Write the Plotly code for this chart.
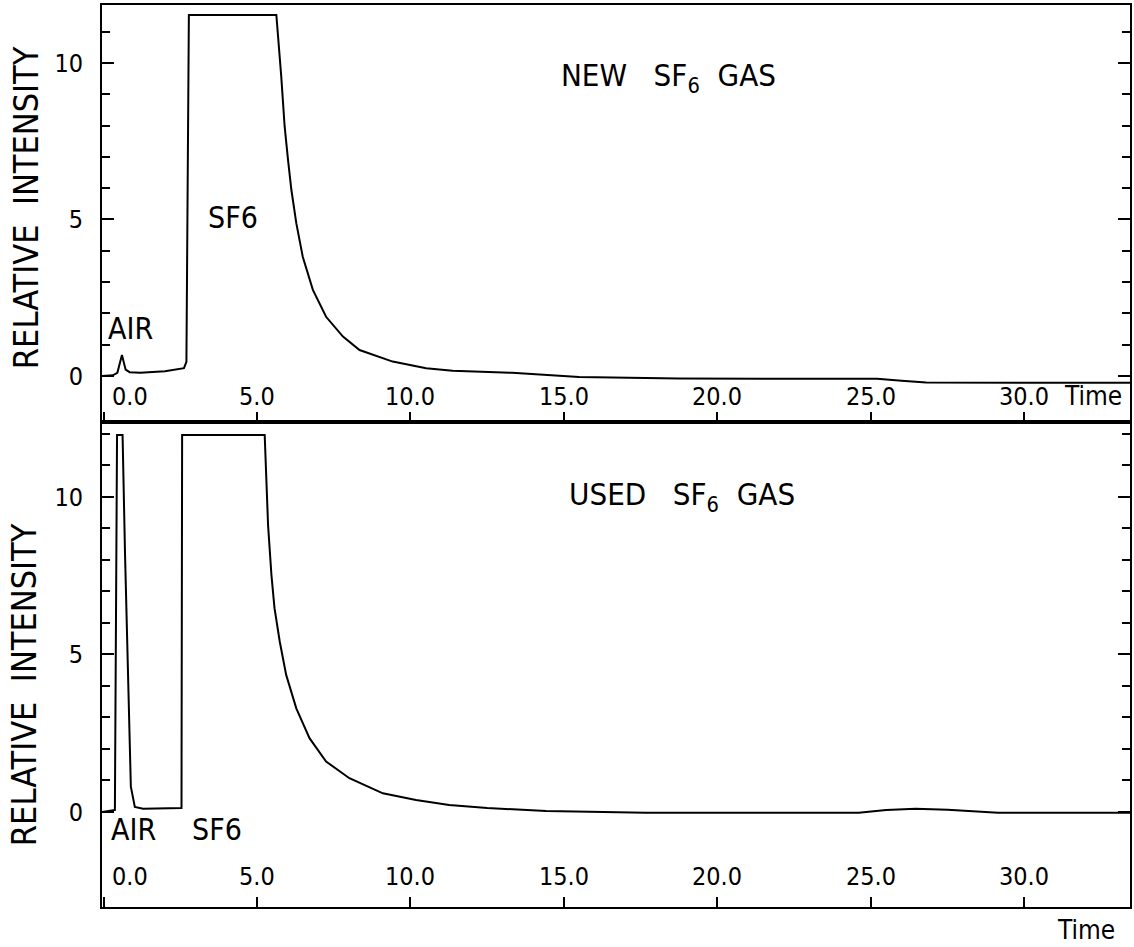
import plotly.graph_objects as go

# ---------------- data ----------------
# NEW SF6 gas chromatogram
new_t = [-0.05, 0.30, 0.45, 0.60, 0.72, 0.85, 1.20, 2.00, 2.62, 2.70, 2.78, 5.63,
         5.79, 5.90, 6.01, 6.12, 6.28, 6.49, 6.82, 7.25, 7.80, 8.34, 9.42, 10.51,
         11.37, 13.31, 15.49, 18.74, 22.0, 25.2, 26.0, 26.8, 30.0, 33.44]
new_v = [0.0, 0.02, 0.10, 0.67, 0.20, 0.12, 0.10, 0.15, 0.25, 0.45, 11.53, 11.53,
         9.56, 7.97, 6.90, 5.94, 4.88, 3.81, 2.75, 1.89, 1.26, 0.83, 0.46, 0.25,
         0.17, 0.10, -0.03, -0.08, -0.09, -0.09, -0.15, -0.21, -0.22, -0.22]

# USED SF6 gas chromatogram
used_t = [-0.05, 0.37, 0.44, 0.62, 0.70, 0.80, 0.89, 1.02, 1.29, 2.54, 2.56, 5.25,
          5.36, 5.47, 5.57, 5.74, 5.95, 6.28, 6.71, 7.25, 8.01, 9.10, 10.18, 11.26,
          12.5, 14.42, 17.67, 24.6, 25.5, 26.45, 27.5, 29.14, 33.44]
used_v = [0.0, 0.06, 11.97, 11.97, 8.2, 3.97, 0.8, 0.16, 0.10, 0.12, 11.97, 11.97,
          9.11, 7.52, 6.47, 5.41, 4.35, 3.29, 2.34, 1.60, 1.07, 0.59, 0.38, 0.22,
          0.12, 0.03, -0.03, -0.03, 0.06, 0.10, 0.07, -0.03, -0.03]

x_tick_vals = [0, 5, 10, 15, 20, 25, 30]
x_tick_text = ["0.0", "5.0", "10.0", "15.0", "20.0", "25.0", "30.0"]
x_label_pos = [0.85, 5, 10, 15, 20, 25, 30]

top_y_ticks = [0, 5, 10]
top_y_minor = [1, 2, 3, 4, 6, 7, 8, 9, 11]
bot_y_ticks = [0, 5, 10]
bot_y_minor = [1, 2, 3, 4, 6, 7, 8, 9, 11, 12]
y_tick_text = ["0", "5", "10"]

FONT = "Liberation Sans Narrow, DejaVu Sans Condensed, Liberation Sans, sans-serif"
X_RANGE = [-0.05, 33.44]
W, H = 1134, 947
ML, MR, MT, MB = 102, 2, 5, 40
PW, PH = W - ML - MR, H - MT - MB
SPLIT = 485 / PH

fig = go.Figure()
fig.add_trace(go.Scatter(x=new_t, y=new_v, mode="lines", xaxis="x", yaxis="y",
                         line=dict(color="black", width=2), showlegend=False))
fig.add_trace(go.Scatter(x=used_t, y=used_v, mode="lines", xaxis="x2", yaxis="y2",
                         line=dict(color="black", width=2), showlegend=False))

xax = dict(range=X_RANGE, showline=True, linewidth=2, linecolor="black", mirror=True,
           ticks="inside", tickvals=x_tick_vals, ticklen=10, tickwidth=1.5,
           tickcolor="black", showticklabels=False, showgrid=False, zeroline=False)


def yax(rng, dom, ticks, minor):
    return dict(range=rng, domain=dom, showline=True, linewidth=2, linecolor="black",
                mirror="allticks", ticks="inside", tickvals=ticks, ticktext=y_tick_text,
                ticklen=12, tickwidth=1.5, tickcolor="black",
                minor=dict(tickvals=minor, ticks="inside", ticklen=8, tickwidth=1.5,
                           tickcolor="black", showgrid=False),
                tickfont=dict(family=FONT, size=25, color="black"),
                ticklabelstandoff=12, showgrid=False, zeroline=False)


fig.update_layout(
    width=W, height=H,
    margin=dict(l=ML, r=MR, t=MT, b=MB),
    paper_bgcolor="white", plot_bgcolor="white",
    font=dict(family=FONT, color="black"),
    xaxis=dict(xax, anchor="y"),
    xaxis2=dict(xax, anchor="y2"),
    yaxis=dict(yax([-1.47, 11.85], [SPLIT, 1], top_y_ticks, top_y_minor), anchor="x"),
    yaxis2=dict(yax([-3.02, 12.38], [0, SPLIT], bot_y_ticks, bot_y_minor), anchor="x2"),
)


def txt(x, y, xr, yr, s, size, **kw):
    d = dict(x=x, y=y, xref=xr, yref=yr, text=s, showarrow=False,
             xanchor="center", yanchor="middle", font=dict(size=size))
    d.update(kw)
    return d


ann = []
for pos, label in zip(x_label_pos, x_tick_text):
    ann.append(txt(pos, -0.64, "x", "y", label, 25))
    ann.append(txt(pos, -2.06, "x2", "y2", label, 25))
ann.append(txt(32.23, -0.64, "x", "y", "Time", 26))
# bottom "Time" sits below the axis line: paper y (pixel 930)
ann.append(txt(32.0, (H - MB - 930) / PH, "x2", "paper", "Time", 26))
# peak labels
ann.append(txt(0.89, 1.53, "x", "y", "AIR", 30))
ann.append(txt(4.21, 5.05, "x", "y", "SF6", 30))
ann.append(txt(0.96, -0.57, "x2", "y2", "AIR", 30))
ann.append(txt(3.69, -0.57, "x2", "y2", "SF6", 30))
# panel titles
NB = "\u00a0"
ann.append(txt(18.4, 9.55, "x", "y", f"NEW{NB*3}SF<sub>6</sub>{NB*2}GAS", 31))
ann.append(txt(18.84, 10.0, "x2", "y2", f"USED{NB*3}SF<sub>6</sub>{NB*2}GAS", 31))
# y-axis titles (pixel centres converted to paper coordinates)
ann.append(txt((26 - ML) / PW, (H - MB - 208) / PH, "paper", "paper",
               f"RELATIVE{NB*2}INTENSITY", 34, textangle=-90))
ann.append(txt((24 - ML) / PW, (H - MB - 685) / PH, "paper", "paper",
               f"RELATIVE{NB*2}INTENSITY", 34, textangle=-90))
fig.update_layout(annotations=ann)

fig.write_html("out.html",
               config={"displayModeBar": False},
               post_script="document.body.style.margin='0';"
                           "document.body.style.overflow='hidden';")
